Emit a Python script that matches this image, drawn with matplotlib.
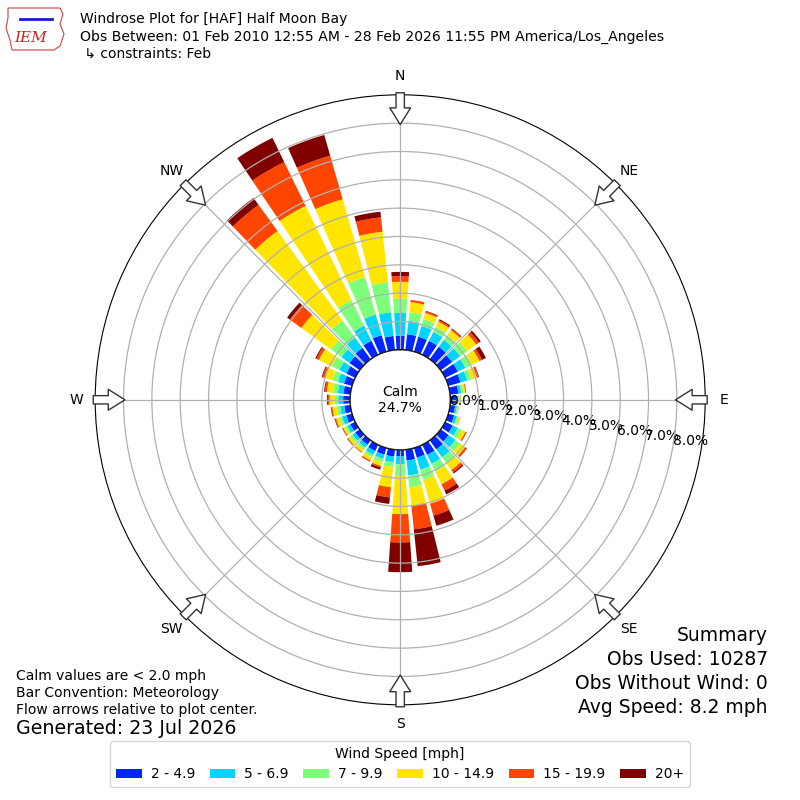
import numpy as np
import matplotlib
matplotlib.use("Agg")
import matplotlib.pyplot as plt
from matplotlib.patches import Patch, Circle, Polygon

# wind directions (deg, meteorological) and percent of obs per speed bin
directions = np.arange(0, 360, 10)
speed_labels = ["2 - 4.9", "5 - 6.9", "7 - 9.9", "10 - 14.9", "15 - 19.9", "20+"]
colors = ["#0026ff", "#00d5ff", "#7dff7b", "#ffe500", "#ff4500", "#800000"]

bin_2_5 = [0.50, 0.56, 0.55, 0.55, 0.55, 0.50, 0.50, 0.45, 0.30, 0.22, 0.18, 0.22,
           0.30, 0.35, 0.40, 0.40, 0.36, 0.39, 0.22, 0.25, 0.25, 0.25, 0.20, 0.20,
           0.20, 0.22, 0.22, 0.25, 0.25, 0.30, 0.35, 0.45, 0.50, 0.55, 0.61, 0.50]
bin_5_7 = [0.80, 0.48, 0.40, 0.35, 0.30, 0.35, 0.30, 0.25, 0.10, 0.07, 0.07, 0.10,
           0.20, 0.30, 0.35, 0.35, 0.44, 0.53, 0.29, 0.20, 0.15, 0.15, 0.12, 0.12,
           0.12, 0.15, 0.15, 0.17, 0.20, 0.22, 0.28, 0.35, 0.45, 0.60, 0.75, 0.84]
bin_7_10 = [0.50, 0.30, 0.25, 0.20, 0.20, 0.30, 0.25, 0.15, 0.08, 0.05, 0.04, 0.07,
            0.15, 0.20, 0.25, 0.30, 0.37, 0.42, 0.41, 0.17, 0.12, 0.10, 0.10, 0.10,
            0.08, 0.10, 0.12, 0.13, 0.17, 0.20, 0.30, 0.45, 0.75, 1.00, 1.38, 1.07]
bin_10_15 = [0.60, 0.36, 0.22, 0.20, 0.22, 0.40, 0.30, 0.20, 0.07, 0.03, 0.02, 0.05,
             0.15, 0.22, 0.30, 0.50, 0.88, 0.65, 1.35, 0.72, 0.15, 0.12, 0.10, 0.10,
             0.08, 0.12, 0.15, 0.18, 0.22, 0.30, 0.50, 1.30, 3.90, 3.70, 2.86, 1.79]
bin_15_20 = [0.20, 0.08, 0.06, 0.06, 0.06, 0.12, 0.10, 0.06, 0.02, 0.01, 0.01, 0.01,
             0.04, 0.06, 0.10, 0.25, 0.44, 0.84, 1.00, 0.36, 0.05, 0.04, 0.03, 0.03,
             0.03, 0.04, 0.04, 0.06, 0.07, 0.07, 0.10, 0.50, 1.14, 1.72, 1.60, 0.51]
bin_20 = [0.15, 0.00, 0.02, 0.04, 0.02, 0.08, 0.15, 0.02, 0.01, 0.00, 0.00, 0.00,
          0.01, 0.02, 0.05, 0.15, 0.37, 1.31, 1.05, 0.23, 0.08, 0.01, 0.00, 0.01,
          0.01, 0.02, 0.02, 0.03, 0.03, 0.03, 0.04, 0.12, 0.30, 0.95, 0.76, 0.20]

calm_pct = 24.7
rticks = [0, 1, 2, 3, 4, 5, 6, 7, 8]
compass = ["N", "NE", "E", "SE", "S", "SW", "W", "NW"]

fig = plt.figure(figsize=(8, 8), dpi=100)
ax = fig.add_axes([0.119, 0.119, 0.7625, 0.7625], projection="polar")
ax.set_theta_zero_location("N")
ax.set_theta_direction(-1)
ax.set_ylim(0, 9)
ax.set_rorigin(-1.765)

theta = np.deg2rad(directions)
width = np.deg2rad(8)
bottom = np.zeros(len(directions))
for vals, col in zip([bin_2_5, bin_5_7, bin_7_10, bin_10_15, bin_15_20, bin_20], colors):
    vals = np.array(vals)
    ax.bar(theta, vals, width=width, bottom=bottom, color=col, edgecolor="none",
           linewidth=0, zorder=1)
    bottom = bottom + vals

ax.set_yticks(rticks)
ax.set_yticklabels(["%.1f%%" % t for t in rticks], fontsize=10)
ax.set_rlabel_position(100)
ax.set_xticks(np.deg2rad(np.arange(0, 360, 45)))
ax.set_xticklabels(compass, fontsize=10)
ax.tick_params(axis="x", pad=3)
ax.grid(True, color="#b0b0b0", linewidth=0.9)

# calm circle in the middle
calm = Circle((0.5, 0.5), 50 / 610, transform=ax.transAxes, facecolor="white",
              edgecolor="black", linewidth=1.0, zorder=3)
ax.add_patch(calm)
ax.text(0.5, 0.5, "Calm\n%.1f%%" % calm_pct, transform=ax.transAxes,
        ha="center", va="center", fontsize=10, zorder=4)

# flow arrows
for d in np.arange(0, 360, 45):
    ax.annotate("", xy=(np.deg2rad(d), 7.95), xytext=(np.deg2rad(d), 9.07),
                arrowprops=dict(arrowstyle="simple,head_length=0.6,head_width=0.75,tail_width=0.3",
                                fc="white", ec="#333333", lw=1.0,
                                shrinkA=0, shrinkB=0, mutation_scale=20),
                annotation_clip=False, zorder=5)

# header
fig.text(0.1, 0.976, "Windrose Plot for [HAF] Half Moon Bay", fontsize=10, va="center")
fig.text(0.1, 0.954, "Obs Between: 01 Feb 2010 12:55 AM - 28 Feb 2026 11:55 PM America/Los_Angeles",
         fontsize=10.1, va="center")
fig.text(0.1, 0.9325, " \u21b3 constraints: Feb", fontsize=10, va="center")

# logo (rough)
logo = Polygon(np.array([[8, 792], [60, 792], [63, 786], [60, 776], [64, 766], [60, 754],
                         [54, 750], [12, 750], [10, 760], [6, 772], [8, 782]]),
               closed=True, fill=False, edgecolor="#d04040", linewidth=0.8, transform=None)
fig.patches.append(logo)
fig.lines.append(plt.Line2D([20 / 800, 52 / 800], [1 - 19 / 800, 1 - 19 / 800],
                            transform=fig.transFigure, color="#1a1acc", lw=2))
fig.text(31 / 800, 1 - 38 / 800, "IEM", color="#cc2222", fontsize=11,
         family="DejaVu Serif", style="italic", ha="center", va="center")

# notes
fig.text(0.02, 1 - 676 / 800, "Calm values are < 2.0 mph", fontsize=10, va="center")
fig.text(0.02, 1 - 693 / 800, "Bar Convention: Meteorology", fontsize=10, va="center")
fig.text(0.02, 1 - 710 / 800, "Flow arrows relative to plot center.", fontsize=10, va="center")
fig.text(0.02, 1 - 729 / 800, "Generated: 23 Jul 2026", fontsize=13.7, va="center")

fig.text(0.96, 1 - 626 / 800,
         "Summary\nObs Used: 10287\nObs Without Wind: 0\nAvg Speed: 8.2 mph",
         fontsize=13.5, ha="right", va="top", linespacing=1.33)

handles = [Patch(facecolor=c, edgecolor="none") for c in colors]
fig.legend(handles, speed_labels, loc="center", bbox_to_anchor=(0.5, 0.045),
           ncol=6, fontsize=10, title="Wind Speed [mph]", title_fontsize=10,
           handlelength=1.85, columnspacing=1.05, handletextpad=0.65)

fig.savefig("out.png", dpi=100)
